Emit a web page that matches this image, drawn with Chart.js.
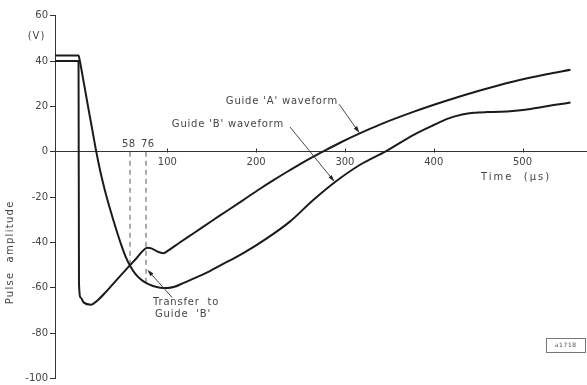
<!DOCTYPE html>
<html>
<head>
<meta charset="utf-8">
<script src="https://cdn.jsdelivr.net/npm/chart.js@4/dist/chart.umd.min.js"></script>
<style>
  html, body { margin: 0; padding: 0; background: #fff; }
  #wrap { width: 587px; height: 385px; }
</style>
</head>
<body>
<div id="wrap"><canvas id="c" width="587" height="385"></canvas></div>
<script>
// Guide 'A' waveform: time in microseconds, pulse amplitude in volts
const timeA  = [-26.5, 0, 0.5, 2.5, 6, 14, 22, 32, 45, 58, 66, 72, 77.5, 82, 87, 91, 96, 100, 114, 130, 150, 167, 185, 204, 220, 235, 250, 265, 280, 295, 316, 340, 377, 415, 452, 490, 527, 554];
const voltsA = [40, 40, -58, -64.3, -66.5, -67.4, -65.3, -61.3, -55.6, -50, -46.6, -43.8, -42.3, -42.6, -43.6, -44.3, -44.7, -43.8, -40.0, -35.8, -30.5, -26.1, -21.4, -16.4, -12.4, -8.8, -5.3, -2.0, 1.1, 4.1, 8.0, 12.1, 17.6, 22.6, 27.0, 31.0, 34.2, 36.2];

// Guide 'B' waveform
const timeB  = [-26.5, 0, 1.5, 5, 10, 15, 20, 25, 30, 36, 42, 48, 53, 58, 64, 70, 76, 84, 92, 100, 108, 115, 130, 148, 166, 186, 212, 238, 264, 290, 318, 346, 378, 400, 416, 432, 445, 460, 475, 492, 509, 535, 554];
const voltsB = [42.5, 42.5, 40, 32.5, 21.5, 10.8, 0, -9.5, -17.5, -25.9, -33.7, -40.9, -46.2, -50.2, -53.8, -56.2, -57.8, -59.2, -59.9, -60, -59.5, -58.4, -55.8, -52.6, -48.8, -44.6, -38.2, -30.8, -21.4, -13, -5.5, 0.2, 7.6, 11.8, 14.6, 16.4, 17.2, 17.5, 17.6, 18.1, 18.9, 20.6, 21.7];

// Marked instants (µs) and the depth each dashed marker reaches (V)
const markerTimes  = [58, 76];
const markerDepths = [-50, -58];

// Axis ticks
const xTickValues = [100, 200, 300, 400, 500];
const yTickValues = [-100, -80, -60, -40, -20, 0, 20, 40, 60];

const FONT = '"DejaVu Sans", sans-serif';
const INK = '#1b1b1b';
const TEXT = '#454545';

const toPoints = (ts, vs) => ts.map((t, i) => ({ x: t, y: vs[i] }));

const markerSets = markerTimes.map((t, i) => ({
  data: [{ x: t, y: 0 }, { x: t, y: markerDepths[i] }],
  borderColor: '#5a5a5a',
  borderWidth: 1,
  borderDash: [5, 4],
  pointRadius: 0,
  tension: 0,
  order: 2
}));

// Text labels placed in data coordinates (time µs, volts); dx nudges in pixels
const notes = [
  { text: "Guide 'A' waveform", t: 228.6, v: 22.4, align: 'center', spacing: 0.8 },
  { text: "Guide 'B' waveform", t: 167.8, v: 11.9, align: 'center', spacing: 0.8 },
  { text: 'Transfer  to',        t: 83.9,  v: -66.4, align: 'left', spacing: 0.8 },
  { text: "Guide  'B'",          t: 86.1,  v: -71.5, align: 'left', spacing: 0.8 },
  { text: String(markerTimes[0]), t: markerTimes[0], v: 3.2, align: 'center', spacing: 0.3, dx: -1.5 },
  { text: String(markerTimes[1]), t: markerTimes[1], v: 3.2, align: 'center', spacing: 0.3, dx: 1.5 },
  { text: 'Time  (μs)',          t: 491.6, v: -11.5, align: 'center', spacing: 2 }
];

// Leader arrows: tail -> head, both in data coordinates
const arrows = [
  { from: [293.4, 21],   to: [316.4, 8.3] },
  { from: [238.2, 10.9], to: [288.3, -13.2] },
  { from: [105.3, -64.2], to: [77.5, -52] }
];

function drawText(ctx, text, x, y, align, spacing, size, color) {
  ctx.save();
  ctx.font = size + 'px ' + FONT;
  ctx.fillStyle = color || TEXT;
  ctx.letterSpacing = spacing + 'px';
  ctx.textAlign = align;
  ctx.textBaseline = 'middle';
  const shift = align === 'center' ? spacing / 2 : 0;
  ctx.fillText(text, x + shift, y);
  ctx.restore();
}

function drawArrow(ctx, x1, y1, x2, y2) {
  const ang = Math.atan2(y2 - y1, x2 - x1);
  const len = 7, half = 2;
  ctx.save();
  ctx.strokeStyle = '#333';
  ctx.fillStyle = '#222';
  ctx.lineWidth = 0.9;
  ctx.beginPath();
  ctx.moveTo(x1, y1);
  ctx.lineTo(x2 - Math.cos(ang) * len * 0.8, y2 - Math.sin(ang) * len * 0.8);
  ctx.stroke();
  ctx.beginPath();
  ctx.moveTo(x2, y2);
  ctx.lineTo(x2 - Math.cos(ang) * len - Math.sin(ang) * half, y2 - Math.sin(ang) * len + Math.cos(ang) * half);
  ctx.lineTo(x2 - Math.cos(ang) * len + Math.sin(ang) * half, y2 - Math.sin(ang) * len - Math.cos(ang) * half);
  ctx.closePath();
  ctx.fill();
  ctx.restore();
}

const figureNotes = {
  id: 'figureNotes',
  afterDraw(chart) {
    const ctx = chart.ctx;
    const xs = chart.scales.x, ys = chart.scales.y;
    const px = t => xs.getPixelForValue(t);
    const py = v => ys.getPixelForValue(v);
    const area = chart.chartArea;

    // upward tick marks on the time axis
    ctx.save();
    ctx.strokeStyle = '#333';
    ctx.lineWidth = 1;
    const y0 = Math.round(py(0)) + 0.5;
    xTickValues.forEach(v => {
      const x = Math.round(px(v)) + 0.5;
      ctx.beginPath();
      ctx.moveTo(x, y0);
      ctx.lineTo(x, y0 - 4);
      ctx.stroke();
    });
    ctx.restore();

    notes.forEach(n => drawText(ctx, n.text, px(n.t) + (n.dx || 0), py(n.v), n.align, n.spacing, 10));
    arrows.forEach(a => drawArrow(ctx, px(a.from[0]), py(a.from[1]), px(a.to[0]), py(a.to[1])));

    // unit and axis title left of the amplitude axis
    drawText(ctx, '(V)', area.left - 19, py(50.7), 'center', 1, 10);
    ctx.save();
    ctx.translate(10, py(-44.6));
    ctx.rotate(-Math.PI / 2);
    drawText(ctx, 'Pulse  amplitude', 0, 0, 'center', 1.3, 10);
    ctx.restore();

    // figure reference box
    const bx = px(548.4), by = py(-85.2);
    ctx.save();
    ctx.strokeStyle = '#777';
    ctx.lineWidth = 1;
    ctx.strokeRect(Math.round(bx - 19.5) + 0.5, Math.round(by - 7) + 0.5, 39, 14);
    ctx.restore();
    drawText(ctx, 'a1718', bx, by, 'center', 0.6, 6, '#555');
  }
};

new Chart(document.getElementById('c'), {
  type: 'line',
  data: {
    datasets: [
      {
        label: "Guide 'A' waveform",
        data: toPoints(timeA, voltsA),
        borderColor: INK,
        borderWidth: 2,
        pointRadius: 0,
        cubicInterpolationMode: 'monotone',
        order: 1
      },
      {
        label: "Guide 'B' waveform",
        data: toPoints(timeB, voltsB),
        borderColor: INK,
        borderWidth: 2,
        pointRadius: 0,
        cubicInterpolationMode: 'monotone',
        order: 1
      },
      ...markerSets
    ]
  },
  options: {
    responsive: false,
    devicePixelRatio: 1,
    animation: false,
    layout: { padding: { left: 0, top: 15.7, right: 0, bottom: 6.4 } },
    plugins: { legend: { display: false }, tooltip: { enabled: false } },
    scales: {
      x: {
        type: 'linear',
        min: -26.5,
        max: 572.6,
        position: { y: 0 },
        afterBuildTicks(s) { s.ticks = xTickValues.map(v => ({ value: v })); },
        grid: { drawOnChartArea: false, drawTicks: false },
        border: { display: true, color: '#333', width: 1 },
        ticks: { padding: 5, maxRotation: 0, autoSkip: false, color: TEXT, font: { family: FONT, size: 10 } }
      },
      y: {
        type: 'linear',
        min: -100,
        max: 60,
        position: 'left',
        afterFit(s) { s.width = 55; s.paddingTop = 0; s.paddingBottom = 0; },
        afterBuildTicks(s) { s.ticks = yTickValues.map(v => ({ value: v })); },
        grid: { drawOnChartArea: false, drawTicks: true, tickLength: 5, color: '#333', lineWidth: 1 },
        border: { display: true, color: '#333', width: 1 },
        ticks: { padding: 2, color: TEXT, font: { family: FONT, size: 10 } }
      }
    }
  },
  plugins: [figureNotes]
});
</script>
</body>
</html>
